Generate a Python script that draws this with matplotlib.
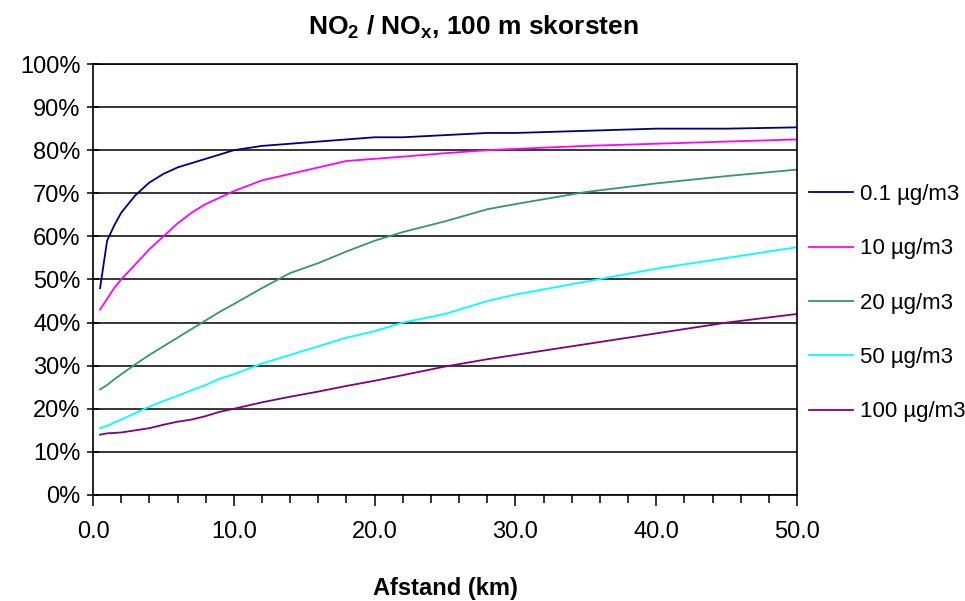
import matplotlib
matplotlib.use("Agg")

import numpy as np
import matplotlib.pyplot as plt
from matplotlib.ticker import MultipleLocator, FuncFormatter

plt.rcParams['font.family'] = ['Liberation Sans', 'DejaVu Sans']
plt.rcParams['mathtext.fontset'] = 'custom'
plt.rcParams['mathtext.rm'] = 'Liberation Sans:bold'
plt.rcParams['mathtext.it'] = 'Liberation Sans:bold'

# distance (km)
afstand = [0.5, 1, 1.5, 2, 3, 4, 5, 6, 7, 8, 9, 10, 12, 14, 16, 18, 20,
           22, 25, 28, 30, 35, 40, 45, 50]

# NO2/NOx ratio (%) per background level
no2_01 = [48, 59, 62.5, 65.5, 69.5, 72.5, 74.5, 76, 77, 78, 79, 80, 81, 81.5,
          82, 82.5, 83, 83, 83.5, 84, 84, 84.5, 85, 85, 85.3]
no2_10 = [43, 45.5, 48, 50, 53.5, 57, 60, 63, 65.5, 67.5, 69, 70.5, 73, 74.5,
          76, 77.5, 78, 78.5, 79.3, 80, 80.3, 81, 81.5, 82, 82.5]
no2_20 = [24.5, 25.5, 26.8, 28, 30.3, 32.5, 34.5, 36.5, 38.5, 40.5, 42.5, 44.3,
          48, 51.5, 53.8, 56.5, 59, 61, 63.5, 66.3, 67.5, 70.3, 72.3, 74, 75.5]
no2_50 = [15.5, 16, 16.8, 17.5, 19, 20.5, 21.8, 23, 24.3, 25.5, 27, 28, 30.5,
          32.5, 34.5, 36.5, 38, 40, 42, 45, 46.5, 49.5, 52.5, 55, 57.5]
no2_100 = [14, 14.3, 14.4, 14.5, 15, 15.5, 16.3, 17, 17.5, 18.3, 19.3, 20,
           21.5, 22.8, 24, 25.3, 26.5, 27.8, 29.8, 31.5, 32.5, 35, 37.5, 40, 42]

series = [no2_01, no2_10, no2_20, no2_50, no2_100]
labels = ["0.1 µg/m3", "10 µg/m3", "20 µg/m3", "50 µg/m3", "100 µg/m3"]
colors = ["#000080", "#ff00ff", "#339966", "#00ffff", "#800080"]

fig = plt.figure(figsize=(9.65, 6.01), dpi=100)
ax = fig.add_axes([0.0964, 0.1764, 0.7296, 0.7171])

for y, lab, c in zip(series, labels, colors):
    ax.plot(afstand, y, color=c, lw=1.3, label=lab)

ax.set_xlim(0, 50)
ax.set_ylim(0, 100)
ax.yaxis.set_major_locator(MultipleLocator(10))
ax.yaxis.set_major_formatter(FuncFormatter(lambda v, p: f"{v:.0f}%"))
ax.xaxis.set_major_locator(MultipleLocator(10))
ax.xaxis.set_minor_locator(MultipleLocator(2))
ax.xaxis.set_major_formatter(FuncFormatter(lambda v, p: f"{v:.1f}"))

ax.grid(axis='y', color='black', lw=1.1)
ax.set_axisbelow(True)
for s in ax.spines.values():
    s.set_color('black')
    s.set_linewidth(1.2)

ax.tick_params(axis='y', direction='inout', length=8, width=1.1,
               labelsize=17, colors='black', pad=5)
ax.tick_params(axis='x', which='major', direction='out', length=8, width=1.1,
               labelsize=17, colors='black', pad=11)
ax.tick_params(axis='x', which='minor', direction='out', length=6, width=1.1)

fig.text(445 / 965, 1 - 588 / 601, "Afstand (km)", fontsize=17,
         fontweight='bold', ha='center', va='center')
fig.text(473 / 965, 1 - 27 / 601, r"NO$_\mathrm{2}$ / NO$_\mathrm{x}$, 100 m skorsten",
         fontsize=19, fontweight='bold', ha='center', va='center')

ax.legend(loc='center left', bbox_to_anchor=(1.0, 0.445), frameon=False,
          fontsize=16, labelspacing=1.5, handlelength=1.95,
          handletextpad=0.32, borderaxespad=0.15)

fig.savefig("out.png", dpi=100)
